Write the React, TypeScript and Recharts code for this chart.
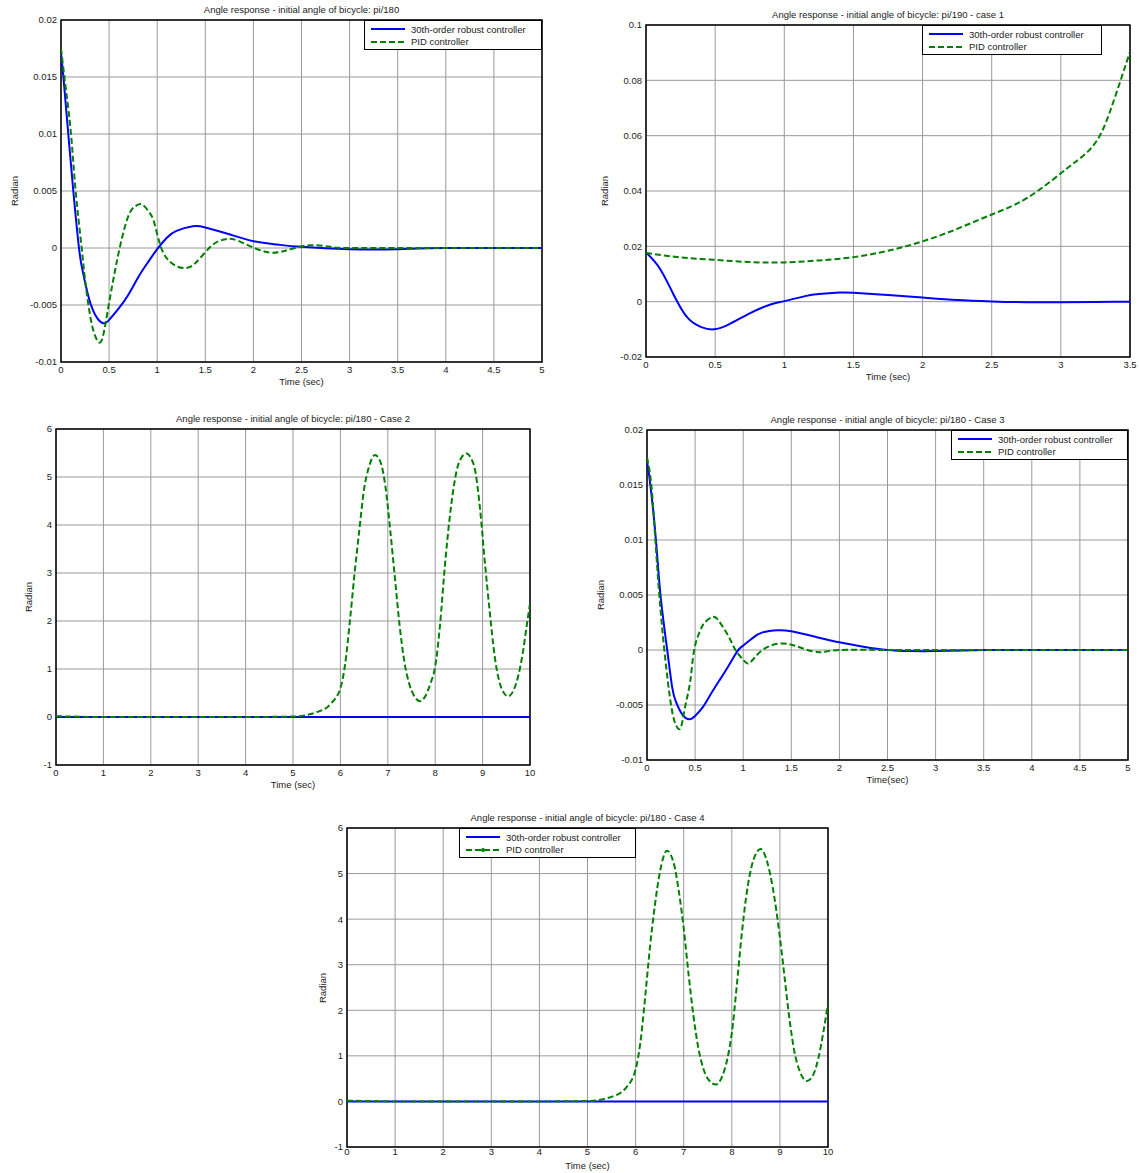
import React from "react";
import { LineChart, Line, XAxis, YAxis, CartesianGrid, ReferenceArea } from "recharts";

const FONT = '"Liberation Sans", Arial, sans-serif';
const ROBUST = "30th-order robust controller";
const PID = "PID controller";
const BLUE = "#0000ff";
const GREEN = "#008000";

// ---- panel 1: pi/180 ----
const p1Title = "Angle response - initial angle of bicycle: pi/180";
const p1RobustT = [0, 0.03, 0.076, 0.128, 0.187, 0.22, 0.25, 0.29, 0.33, 0.38, 0.44, 0.5, 0.6, 0.7, 0.8, 0.9, 1.0, 1.1, 1.2, 1.37, 1.5, 1.75, 2.0, 2.25, 2.5, 3.0, 3.5, 4.0, 5.0];
const p1Robust = [0.0171, 0.0145, 0.01, 0.005, 0, -0.0018, -0.003, -0.0044, -0.0054, -0.0062, -0.0066, -0.0063, -0.0053, -0.0041, -0.0026, -0.0013, -0.0001, 0.0009, 0.0015, 0.0019, 0.0018, 0.0012, 0.0006, 0.0003, 0.0001, -0.0001, -0.0001, 0, 0];
const p1PidT = [0, 0.05, 0.104, 0.152, 0.215, 0.25, 0.3, 0.35, 0.405, 0.45, 0.5, 0.55, 0.61, 0.7, 0.78, 0.845, 0.92, 0.97, 1.03, 1.1, 1.2, 1.3, 1.4, 1.54, 1.64, 1.74, 1.85, 2.01, 2.17, 2.3, 2.43, 2.6, 2.8, 3.0, 3.5, 4.0, 5.0];
const p1Pid = [0.0175, 0.014, 0.01, 0.005, 0, -0.0028, -0.0058, -0.0076, -0.0083, -0.0072, -0.0048, -0.0025, 0, 0.0028, 0.0037, 0.0038, 0.0031, 0.0022, 0.0003, -0.0009, -0.0016, -0.00175, -0.0013, 0, 0.0006, 0.0008, 0.0006, 0, -0.0004, -0.0003, 0, 0.00025, 0.0001, 0, 0, 0, 0];
const p1XTicks = [0, 0.5, 1, 1.5, 2, 2.5, 3, 3.5, 4, 4.5, 5];
const p1YTicks = [-0.01, -0.005, 0, 0.005, 0.01, 0.015, 0.02];

// ---- panel 2: pi/190 case 1 ----
const p2Title = "Angle response - initial angle of bicycle: pi/190 - case 1";
const p2RobustT = [0, 0.1, 0.2, 0.3, 0.4, 0.49, 0.6, 0.75, 0.9, 1.0, 1.15, 1.25, 1.4, 1.5, 1.75, 2.0, 2.25, 2.5, 2.75, 3.0, 3.25, 3.5];
const p2Robust = [0.0178, 0.012, 0.0025, -0.0058, -0.0092, -0.01, -0.0082, -0.0042, -0.001, 0.0002, 0.002, 0.0028, 0.0033, 0.0032, 0.0024, 0.0015, 0.0006, 0.0001, -0.0002, -0.0002, -0.0001, 0];
const p2PidT = [0, 0.25, 0.5, 0.75, 1.0, 1.25, 1.5, 1.75, 2.0, 2.25, 2.5, 2.75, 3.0, 3.1, 3.2, 3.3, 3.4, 3.5];
const p2Pid = [0.0176, 0.016, 0.0151, 0.0143, 0.0142, 0.0149, 0.0161, 0.0184, 0.0218, 0.0263, 0.0315, 0.0373, 0.0464, 0.0503, 0.0545, 0.0618, 0.0752, 0.0903];
const p2XTicks = [0, 0.5, 1, 1.5, 2, 2.5, 3, 3.5];
const p2YTicks = [-0.02, 0, 0.02, 0.04, 0.06, 0.08, 0.1];

// ---- panel 3: case 2 ----
const p3Title = "Angle response - initial angle of bicycle: pi/180 - Case 2";
const p3RobustT = [0, 10];
const p3Robust = [0, 0];
const p3PidT = [0, 1, 2, 3, 4, 5, 5.5, 5.8, 6.0, 6.1, 6.2, 6.3, 6.4, 6.5, 6.6, 6.73, 6.85, 6.95, 7.05, 7.15, 7.25, 7.35, 7.45, 7.55, 7.68, 7.8, 7.9, 8.0, 8.1, 8.2, 8.3, 8.4, 8.5, 8.66, 8.75, 8.85, 8.95, 9.05, 9.15, 9.25, 9.35, 9.45, 9.54, 9.65, 9.75, 9.85, 9.93, 10];
const p3Pid = [0.0175, 0, 0, 0, 0, 0.01, 0.1, 0.28, 0.6, 1.1, 2.0, 3.0, 3.9, 4.75, 5.2, 5.46, 5.3, 4.8, 3.9, 2.9, 1.9, 1.15, 0.7, 0.45, 0.33, 0.45, 0.7, 1.05, 1.9, 3.1, 4.1, 4.85, 5.3, 5.49, 5.4, 5.1, 4.3, 3.2, 2.2, 1.3, 0.75, 0.5, 0.43, 0.55, 0.85, 1.35, 1.9, 2.36];
const p3XTicks = [0, 1, 2, 3, 4, 5, 6, 7, 8, 9, 10];
const p3YTicks = [-1, 0, 1, 2, 3, 4, 5, 6];

// ---- panel 4: case 3 ----
const p4Title = "Angle response - initial angle of bicycle: pi/180 - Case 3";
const p4RobustT = [0, 0.035, 0.093, 0.14, 0.21, 0.26, 0.3, 0.37, 0.44, 0.5, 0.58, 0.65, 0.75, 0.85, 0.94, 1.0, 1.1, 1.2, 1.36, 1.5, 1.75, 2.0, 2.25, 2.5, 2.75, 3.0, 3.5, 4, 5];
const p4Robust = [0.0172, 0.015, 0.01, 0.005, 0, -0.0033, -0.0047, -0.0059, -0.0063, -0.006, -0.0052, -0.0042, -0.0028, -0.0014, -0.0001, 0.0004, 0.0011, 0.0016, 0.0018, 0.0017, 0.0012, 0.0007, 0.0003, 0, -0.0001, -0.0001, 0, 0, 0];
const p4PidT = [0, 0.045, 0.087, 0.128, 0.18, 0.25, 0.3, 0.33, 0.36, 0.4, 0.45, 0.49, 0.55, 0.6, 0.685, 0.75, 0.85, 0.92, 1.0, 1.07, 1.2, 1.41, 1.6, 1.79, 2.0, 2.5, 3, 4, 5];
const p4Pid = [0.0175, 0.015, 0.01, 0.005, 0, -0.005, -0.0068, -0.0072, -0.0068, -0.005, -0.0028, 0, 0.0017, 0.0025, 0.003, 0.0026, 0.0012, 0, -0.0009, -0.00115, 0, 0.0006, 0.0002, -0.0002, 0, 0, 0, 0, 0];
const p4XTicks = [0, 0.5, 1, 1.5, 2, 2.5, 3, 3.5, 4, 4.5, 5];
const p4YTicks = [-0.01, -0.005, 0, 0.005, 0.01, 0.015, 0.02];

// ---- panel 5: case 4 ----
const p5Title = "Angle response - initial angle of bicycle: pi/180 - Case 4";
const p5RobustT = [0, 10];
const p5Robust = [0, 0];
const p5PidT = [0, 1, 2, 3, 4, 5, 5.5, 5.8, 6.0, 6.1, 6.2, 6.3, 6.4, 6.5, 6.65, 6.8, 6.9, 7.0, 7.1, 7.2, 7.3, 7.4, 7.5, 7.67, 7.8, 7.9, 8.0, 8.1, 8.2, 8.3, 8.45, 8.6, 8.75, 8.85, 9.0, 9.1, 9.2, 9.3, 9.4, 9.56, 9.7, 9.8, 9.9, 10];
const p5Pid = [0.0175, 0, 0, 0, 0, 0.01, 0.1, 0.3, 0.7, 1.3, 2.3, 3.4, 4.3, 5.0, 5.5, 5.2, 4.6, 3.8, 2.8, 1.9, 1.2, 0.75, 0.5, 0.37, 0.55, 0.9, 1.5, 2.5, 3.6, 4.5, 5.3, 5.54, 5.2, 4.7, 3.6, 2.7, 1.8, 1.1, 0.7, 0.45, 0.6, 0.95, 1.5, 2.15];
const p5XTicks = [0, 1, 2, 3, 4, 5, 6, 7, 8, 9, 10];
const p5YTicks = [-1, 0, 1, 2, 3, 4, 5, 6];

const zip = (t: number[], v: number[]) => t.map((x, i) => ({ t: x, v: v[i] }));

type Box = { x0: number; y0: number; x1: number; y1: number };

const PAD_L = 60;
const PAD_T = 22;
const PAD_R = 12;
const PAD_B = 45;

function Panel(props: {
  box: Box;
  title: string;
  xLabel: string;
  xLabelGap: number;
  xTickMargin: number;
  radianOffset: number;
  xTicks: number[];
  yTicks: number[];
  curve: "natural" | "monotone";
  robust: { t: number; v: number }[];
  pid: { t: number; v: number }[];
  legend?: { x: number; y: number; w: number; dotted?: boolean };
}) {
  const { box, xTicks, yTicks, legend } = props;
  const W = box.x1 - box.x0 + PAD_L + PAD_R;
  const H = box.y1 - box.y0 + PAD_T + PAD_B;
  const xd: [number, number] = [xTicks[0], xTicks[xTicks.length - 1]];
  const yd: [number, number] = [yTicks[0], yTicks[yTicks.length - 1]];
  const tickStyle = { fontSize: 9.5, fill: "#222", fontFamily: FONT };
  const cx = (box.x0 + box.x1) / 2;
  const cy = (box.y0 + box.y1) / 2;
  const textStyle: React.CSSProperties = {
    position: "absolute",
    fontFamily: FONT,
    fontSize: 9.5,
    color: "#222",
    whiteSpace: "nowrap",
    lineHeight: "11px",
  };
  return (
    <>
      <div style={{ position: "absolute", left: box.x0 - PAD_L, top: box.y0 - PAD_T }}>
        <LineChart
          width={W}
          height={H}
          margin={{ top: PAD_T, right: PAD_R, bottom: PAD_B - 20, left: PAD_L - 45 }}
        >
          <CartesianGrid stroke="#9a9a9a" strokeWidth={1} />
          <XAxis
            type="number"
            dataKey="t"
            domain={xd}
            ticks={xTicks}
            height={20}
            tickLine={false}
            axisLine={false}
            tickSize={props.xTickMargin}
            tickMargin={1}
            tick={tickStyle}
            allowDataOverflow
          />
          <YAxis
            type="number"
            dataKey="v"
            domain={yd}
            ticks={yTicks}
            width={45}
            tickLine={false}
            axisLine={false}
            tickSize={2}
            tickMargin={2}
            tick={tickStyle}
            allowDataOverflow
          />
          <Line
            data={props.robust}
            dataKey="v"
            name={ROBUST}
            type={props.curve}
            stroke={BLUE}
            strokeWidth={2}
            dot={false}
            isAnimationActive={false}
          />
          <Line
            data={props.pid}
            dataKey="v"
            name={PID}
            type={props.curve}
            stroke={GREEN}
            strokeWidth={2}
            strokeDasharray="6 3"
            dot={false}
            isAnimationActive={false}
          />
          <ReferenceArea
            x1={xd[0]}
            x2={xd[1]}
            y1={yd[0]}
            y2={yd[1]}
            fill="none"
            fillOpacity={0}
            stroke="#000"
            strokeWidth={1.5}
          />
        </LineChart>
      </div>
      <div style={{ ...textStyle, left: cx, top: box.y0 - 16, transform: "translateX(-50%)" }}>
        {props.title}
      </div>
      <div style={{ ...textStyle, left: cx, top: box.y1 + props.xLabelGap, transform: "translateX(-50%)" }}>
        {props.xLabel}
      </div>
      <div
        style={{
          ...textStyle,
          left: box.x0 - props.radianOffset,
          top: cy,
          transform: "translate(-50%, -50%) rotate(-90deg)",
        }}
      >
        Radian
      </div>
      {legend ? (
        <div
          style={{
            position: "absolute",
            left: legend.x,
            top: legend.y,
            width: legend.w,
            height: 30,
            boxSizing: "border-box",
            border: "1.5px solid #000",
            background: "#fff",
            fontFamily: FONT,
            fontSize: 9.5,
            color: "#222",
            padding: "2px 0 0 6px",
          }}
        >
          <div style={{ display: "flex", alignItems: "center", height: 12 }}>
            <svg width={36} height={6} style={{ marginRight: 4 }}>
              <line x1={0} y1={3} x2={34} y2={3} stroke={BLUE} strokeWidth={2} />
            </svg>
            {ROBUST}
          </div>
          <div style={{ display: "flex", alignItems: "center", height: 13 }}>
            <svg width={36} height={6} style={{ marginRight: 4 }}>
              <line x1={0} y1={3} x2={34} y2={3} stroke={GREEN} strokeWidth={2} strokeDasharray="6 3" />
              {legend.dotted ? <circle cx={17} cy={3} r={2} fill={GREEN} /> : null}
            </svg>
            {PID}
          </div>
        </div>
      ) : null}
    </>
  );
}

export default function App() {
  return (
    <div style={{ position: "absolute", left: 0, top: 0, width: 1139, height: 1173, background: "#fff" }}>
      <Panel
        box={{ x0: 61, y0: 20, x1: 542, y1: 362 }}
        title={p1Title}
        xLabel="Time (sec)"
        xLabelGap={14}
        xTickMargin={3}
        radianOffset={47}
        xTicks={p1XTicks}
        yTicks={p1YTicks}
        curve="natural"
        robust={zip(p1RobustT, p1Robust)}
        pid={zip(p1PidT, p1Pid)}
        legend={{ x: 364, y: 20, w: 178 }}
      />
      <Panel
        box={{ x0: 646, y0: 25, x1: 1130, y1: 357 }}
        title={p2Title}
        xLabel="Time (sec)"
        xLabelGap={14}
        xTickMargin={3}
        radianOffset={42}
        xTicks={p2XTicks}
        yTicks={p2YTicks}
        curve="natural"
        robust={zip(p2RobustT, p2Robust)}
        pid={zip(p2PidT, p2Pid)}
        legend={{ x: 922, y: 25, w: 180 }}
      />
      <Panel
        box={{ x0: 56, y0: 429, x1: 530, y1: 765 }}
        title={p3Title}
        xLabel="Time (sec)"
        xLabelGap={14}
        xTickMargin={3}
        radianOffset={28}
        xTicks={p3XTicks}
        yTicks={p3YTicks}
        curve="monotone"
        robust={zip(p3RobustT, p3Robust)}
        pid={zip(p3PidT, p3Pid)}
      />
      <Panel
        box={{ x0: 647, y0: 430, x1: 1128, y1: 760 }}
        title={p4Title}
        xLabel="Time(sec)"
        xLabelGap={14}
        xTickMargin={3}
        radianOffset={47}
        xTicks={p4XTicks}
        yTicks={p4YTicks}
        curve="natural"
        robust={zip(p4RobustT, p4Robust)}
        pid={zip(p4PidT, p4Pid)}
        legend={{ x: 951, y: 430, w: 177 }}
      />
      <Panel
        box={{ x0: 347, y0: 828, x1: 828, y1: 1147 }}
        title={p5Title}
        xLabel="Time (sec)"
        xLabelGap={13}
        xTickMargin={0}
        radianOffset={25}
        xTicks={p5XTicks}
        yTicks={p5YTicks}
        curve="monotone"
        robust={zip(p5RobustT, p5Robust)}
        pid={zip(p5PidT, p5Pid)}
        legend={{ x: 459, y: 828, w: 177, dotted: true }}
      />
    </div>
  );
}
